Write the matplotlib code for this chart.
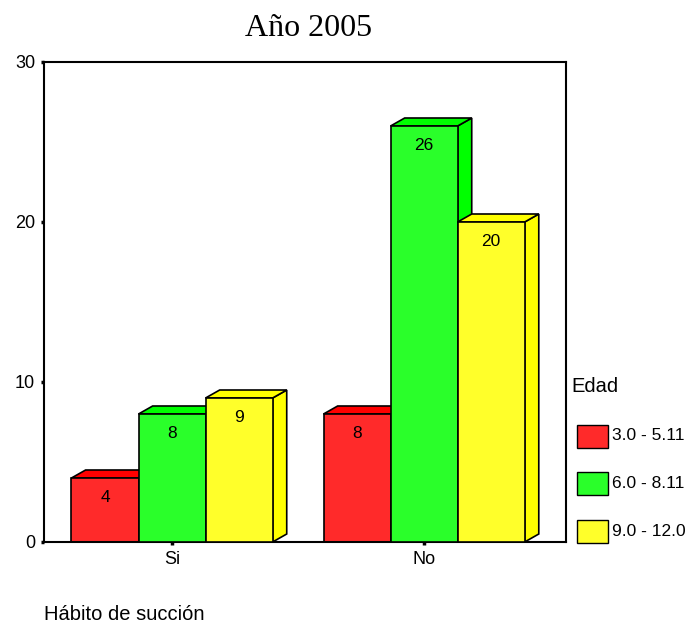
import matplotlib.pyplot as plt
from matplotlib.patches import Polygon, Rectangle

categorias = ["Si", "No"]
edades = ["3.0 - 5.11", "6.0 - 8.11", "9.0 - 12.0"]
valores = {
    "3.0 - 5.11": [4, 8],
    "6.0 - 8.11": [8, 26],
    "9.0 - 12.0": [9, 20],
}
frente = ["#ff2a2a", "#2aff2a", "#ffff2a"]
lado = ["#ff0000", "#00ff00", "#ffff00"]

plt.rcParams['font.family'] = ['Liberation Sans', 'DejaVu Sans']

W, H = 687, 624
fig = plt.figure(figsize=(W / 100, H / 100), dpi=100)
ax = fig.add_axes([44 / W, 82 / H, 522 / W, 480 / H])

ancho = 0.266
dx, dy = 0.056, 0.5  # profundidad del efecto 3D

for j, cat in enumerate(categorias):
    for i, ed in enumerate(edades):
        v = valores[ed][j]
        x0 = j + (i - 1.5) * ancho
        x1 = x0 + ancho
        # cara lateral
        ax.add_patch(Polygon([(x1, 0), (x1 + dx, dy), (x1 + dx, v + dy), (x1, v)],
                             closed=True, facecolor=lado[i], edgecolor="black",
                             linewidth=1.2, zorder=2 + i))
        # cara superior
        ax.add_patch(Polygon([(x0, v), (x0 + dx, v + dy), (x1 + dx, v + dy), (x1, v)],
                             closed=True, facecolor=lado[i], edgecolor="black",
                             linewidth=1.2, zorder=2 + i))
        # cara frontal
        ax.add_patch(Rectangle((x0, 0), ancho, v, facecolor=frente[i],
                               edgecolor="black", linewidth=1.2, zorder=2 + i))
        ax.text(x0 + ancho / 2, v - 1.2, str(v), ha="center", va="center",
                fontsize=12.5, zorder=10)

ax.set_xlim(-0.508, 1.563)
ax.set_ylim(0, 30)
ax.set_yticks([0, 10, 20, 30])
ax.set_xticks([0, 1])
ax.set_xticklabels(categorias)
ax.tick_params(axis="both", labelsize=13, length=2.5, width=2.5, color="black", pad=4)
for s in ax.spines.values():
    s.set_linewidth(1.5)

fig.text(309 / W, 1 - 28 / H, "Año 2005", ha="center", va="center",
         fontsize=23, family="Liberation Serif")
fig.text(44 / W, 1 - 614 / H, "Hábito de succión", ha="left", va="center", fontsize=14.5)

# leyenda
fig.text(571 / W, 1 - 386 / H, "Edad", ha="left", va="center", fontsize=14.5)
for i, ed in enumerate(edades):
    yc = 436 + 47.5 * i
    fig.add_artist(Rectangle((577 / W, 1 - (yc + 11.5) / H), 31 / W, 23 / H,
                             transform=fig.transFigure, facecolor=frente[i],
                             edgecolor="black", linewidth=1))
    fig.text(612 / W, 1 - yc / H, ed, ha="left", va="center", fontsize=12.5)

fig.savefig("out.png", dpi=100)
